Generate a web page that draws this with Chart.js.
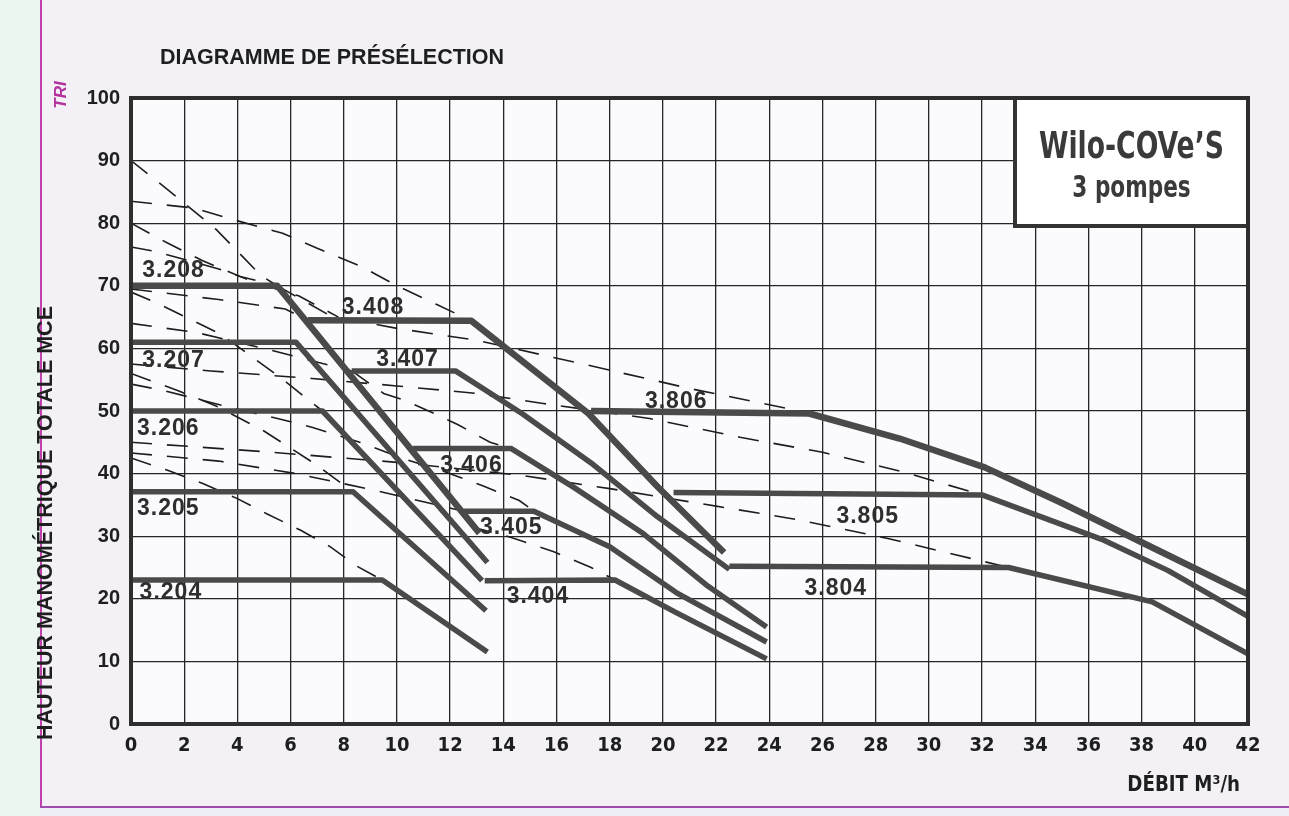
<!DOCTYPE html>
<html lang="fr">
<head>
<meta charset="utf-8">
<title>Diagramme de présélection – Wilo-COVe'S 3 pompes</title>
<script src="https://cdn.jsdelivr.net/npm/chart.js@4.4.1/dist/chart.umd.min.js"></script>
<style>
  html, body { margin: 0; padding: 0; }
  body { width: 1289px; height: 816px; overflow: hidden; background: #f3f0f6; position: relative; }
  .strip { position: absolute; left: 0; top: 0; width: 40px; height: 816px; background: #ecf6f1; border-right: 2px solid #c23fae; }
  .bottom { position: absolute; left: 40px; top: 806px; width: 1249px; height: 10px; border-top: 2px solid #a04cae; background: #eef0f8; }
  canvas { position: absolute; left: 0; top: 0; }
</style>
</head>
<body>
<div class="strip"></div>
<div class="bottom"></div>
<canvas id="chart" width="1289" height="816"></canvas>
<script>
// Axis ranges (débit m3/h, hauteur mce)
const xMin = 0, xMax = 42, xStep = 2;
const yMin = 0, yMax = 100, yStep = 10;

// Pump curves, [débit, hauteur] pairs
const c3208 = [[0,70],[5.5,70],[13.1,30.5]];
const c3207 = [[0,61],[6.2,61],[13.4,25.8]];
const c3206 = [[0,50],[7.2,50],[13.2,22.9]];
const c3205 = [[0,37.1],[8.35,37.1],[13.35,18.1]];
const c3204 = [[0,23],[9.45,23],[13.4,11.5]];
const c3408 = [[6.65,64.5],[12.8,64.4],[15.3,56],[17.2,49.6],[19.8,37.9],[22.3,27.4]];
const c3407 = [[8.3,56.4],[12.2,56.4],[14.7,49.6],[17.3,41.7],[19.8,33.1],[22.5,24.7]];
const c3406 = [[10.6,44],[14.3,44],[16.65,37.8],[19.2,30.6],[21.7,22],[23.9,15.5]];
const c3405 = [[12.5,34],[15.15,34],[18,28.3],[20.5,21],[23.9,13.1]];
const c3404 = [[13.3,22.9],[18.2,23],[20.5,17.8],[23.9,10.4]];
const c3806 = [[17.3,50],[25.5,49.6],[28.9,45.6],[32.1,41],[35,35.3],[38.4,28.2],[42,20.7]];
const c3805 = [[20.4,37],[32,36.6],[36.5,29.5],[39,24.5],[42,17.2]];
const c3804 = [[22.5,25.2],[33,25],[38.4,19.5],[42,11.2]];

const curveNames = ['3.208','3.207','3.206','3.205','3.204','3.408','3.407','3.406','3.405','3.404','3.806','3.805','3.804'];
const curveData  = [c3208, c3207, c3206, c3205, c3204, c3408, c3407, c3406, c3405, c3404, c3806, c3805, c3804];
// where each name is written, [débit, hauteur]
const labelX = [1.6, 1.6, 1.4, 1.4, 1.5, 9.1, 10.4, 12.8, 14.3, 15.3, 20.5, 27.7, 26.5];
const labelY = [72.4, 58, 47.1, 34.4, 21, 66.5, 58.2, 41.2, 31.3, 20.3, 51.5, 33.2, 21.6];

// thin dashed curves
const d1  = [[0,90],[1.4,85.3],[3.2,79],[4.9,71.6],[5.5,70]];
const d2  = [[0,80],[1.3,77],[2.7,74],[4.6,70.6],[6.3,68.4],[7.8,65]];
const d3  = [[0,83.5],[2.4,82.4],[3.9,80.5],[5.7,78.4],[7,76],[8.7,73],[10,70],[11.5,67],[12.8,64.4]];
const d4  = [[0,76.2],[0.9,75.5],[3.3,72.7],[4.1,71.5],[5.5,70]];
const d5  = [[5.5,70],[7.5,65.2],[10,63.2],[13,61.3],[17,57.5],[21,53.6],[25.5,49.7]];
const d6  = [[0,69.5],[3.3,67.8],[5.8,66.3],[6.65,64.5]];
const d7  = [[0,69],[1.1,67],[3.4,62.2],[5.6,55.4],[7.2,50]];
const d8  = [[0,64],[2.5,62.5],[5,60],[8.3,56.4]];
const d9  = [[0,56],[1.8,53.2],[3.2,50.8],[5,46.8],[6.9,41.6],[8.35,37.1]];
const d10 = [[0,57.5],[3,56.4],[6.8,55.2],[10,54],[13,52.8],[15.5,51.2],[19.5,48.8],[22.9,45.8],[26,43.4],[29,40.3],[32,36.6]];
const d11 = [[0,45],[5,43.5],[10,41.8],[14.7,39.7],[18,37.6],[22,34.8],[25,32.7],[28.5,29.6],[33,25]];
const d12 = [[0,43.3],[3.3,42],[6.2,40],[9.2,37.3],[12.5,34]];
const d13 = [[0,42.5],[1.4,40.5],[2.7,38.4],[4,36],[5.1,33.6],[6.4,30.9],[7.5,28.3],[8.5,25.2],[9.45,23]];
const d14 = [[8.3,56.4],[9.5,52.8],[10.3,51.7],[11.4,49.6],[12.3,47.8],[13.5,45],[14.3,44]];
const d15 = [[0,54.3],[1.2,53.3],[3.7,50.6],[5.7,48.6],[6.8,47.4],[8.6,45],[10.3,42.3],[11.8,40.3],[13.2,38.1],[14.6,35.7],[15.15,34]];
const d16 = [[12.8,31.5],[14.3,29.8],[15.9,27.5],[17.3,25],[18.2,23]];
const dashedData = [d1, d2, d3, d4, d5, d6, d7, d8, d9, d10, d11, d12, d13, d14, d15, d16];

const toXY = pts => pts.map(p => ({ x: p[0], y: p[1] }));

const datasets = [];
dashedData.forEach((pts, i) => {
  datasets.push({
    label: 'tirets ' + (i + 1), data: toXY(pts),
    borderColor: '#1d1d1d', borderWidth: 1.6, borderDash: [21, 15],
    pointRadius: 0, tension: 0, order: 2
  });
});
curveData.forEach((pts, i) => {
  const heavy = curveNames[i].endsWith('08') || curveNames[i] === '3.806';
  datasets.push({
    label: curveNames[i], data: toXY(pts),
    borderColor: '#4a4a4a', borderWidth: heavy ? 6.5 : 5.5,
    borderJoinStyle: 'round', borderCapStyle: 'butt',
    pointRadius: 0, tension: 0, order: 1
  });
});

const boldSans = "'Liberation Sans', Arial, sans-serif";
const narrow = "'DejaVu Sans Condensed', 'Liberation Sans Narrow', sans-serif";

// draws text squeezed horizontally, like the condensed face of the print
function squeezed(ctx, text, x, y, sx) {
  ctx.save();
  ctx.translate(x, y);
  ctx.scale(sx, 1);
  ctx.fillText(text, 0, 0);
  ctx.restore();
}

// plot background, frame, name box and all free text
const decor = {
  id: 'decor',
  beforeDraw(chart) {
    const { ctx, chartArea: a } = chart;
    ctx.save();
    ctx.fillStyle = '#fbfafd';
    ctx.fillRect(a.left, a.top, a.right - a.left, a.bottom - a.top);
    ctx.restore();
  },
  afterDraw(chart) {
    const { ctx, chartArea: a, scales } = chart;
    ctx.save();

    // curve names
    ctx.fillStyle = '#2e2e2e';
    ctx.font = 'bold 23px ' + boldSans;
    ctx.letterSpacing = '1px';
    ctx.textAlign = 'center';
    ctx.textBaseline = 'middle';
    curveNames.forEach((n, i) => {
      ctx.fillText(n, scales.x.getPixelForValue(labelX[i]), scales.y.getPixelForValue(labelY[i]));
    });
    ctx.letterSpacing = '0px';

    // name box, top right
    const bx = 1015, by = a.top, bw = a.right - bx, bh = 128;
    ctx.fillStyle = '#ffffff';
    ctx.fillRect(bx, by, bw, bh);
    ctx.strokeStyle = '#333333';
    ctx.lineWidth = 4;
    ctx.beginPath();
    ctx.moveTo(bx, by);
    ctx.lineTo(bx, by + bh);
    ctx.lineTo(a.right, by + bh);
    ctx.stroke();
    ctx.fillStyle = '#3a3a3a';
    ctx.font = 'bold 38px ' + narrow;
    squeezed(ctx, 'Wilo-COVe\u2019S', bx + bw / 2, by + 50, 0.78);
    ctx.font = 'bold 30px ' + narrow;
    squeezed(ctx, '3 pompes', bx + bw / 2, by + 91, 0.8);

    // frame
    ctx.strokeStyle = '#2e2e2e';
    ctx.lineWidth = 4;
    ctx.strokeRect(a.left, a.top, a.right - a.left, a.bottom - a.top);

    // titles
    ctx.fillStyle = '#1e1e1e';
    ctx.textAlign = 'left';
    ctx.font = 'bold 21.5px ' + boldSans;
    ctx.fillText('DIAGRAMME DE PRÉSÉLECTION', 160, 58);

    ctx.textAlign = 'right';
    ctx.font = 'bold 22px ' + narrow;
    squeezed(ctx, 'DÉBIT M³/h', 1240, 785, 0.92);

    ctx.save();
    ctx.translate(46, 523);
    ctx.rotate(-Math.PI / 2);
    ctx.textAlign = 'center';
    ctx.font = 'bold 21.5px ' + boldSans;
    ctx.fillText('HAUTEUR MANOMÉTRIQUE TOTALE MCE', 0, 0);
    ctx.restore();

    ctx.save();
    ctx.translate(61, 95);
    ctx.rotate(-Math.PI / 2);
    ctx.textAlign = 'center';
    ctx.fillStyle = '#b2329f';
    ctx.font = 'italic bold 17px ' + boldSans;
    ctx.fillText('TRI', 0, 0);
    ctx.restore();

    ctx.restore();
  }
};

new Chart(document.getElementById('chart'), {
  type: 'line',
  data: { datasets },
  options: {
    responsive: false,
    animation: false,
    devicePixelRatio: 1,
    layout: { padding: { left: 36, right: 41, top: 98, bottom: 52 } },
    plugins: { legend: { display: false }, tooltip: { enabled: false }, title: { display: false } },
    scales: {
      x: {
        type: 'linear', min: xMin, max: xMax,
        afterFit(s) { s.height = 40; },
        ticks: {
          stepSize: xStep, autoSkip: false, maxRotation: 0, padding: 10, color: '#1e1e1e',
          font: { family: narrow, size: 20, weight: 'bold' }
        },
        grid: { color: '#262626', lineWidth: 1.3, drawTicks: false },
        border: { display: false }
      },
      y: {
        min: yMin, max: yMax,
        afterFit(s) { s.width = 95; },
        ticks: {
          stepSize: yStep, padding: 11, color: '#1e1e1e',
          font: { family: boldSans, size: 20, weight: 'bold' }
        },
        grid: { color: '#262626', lineWidth: 1.3, drawTicks: false },
        border: { display: false }
      }
    }
  },
  plugins: [decor]
});
</script>
</body>
</html>
